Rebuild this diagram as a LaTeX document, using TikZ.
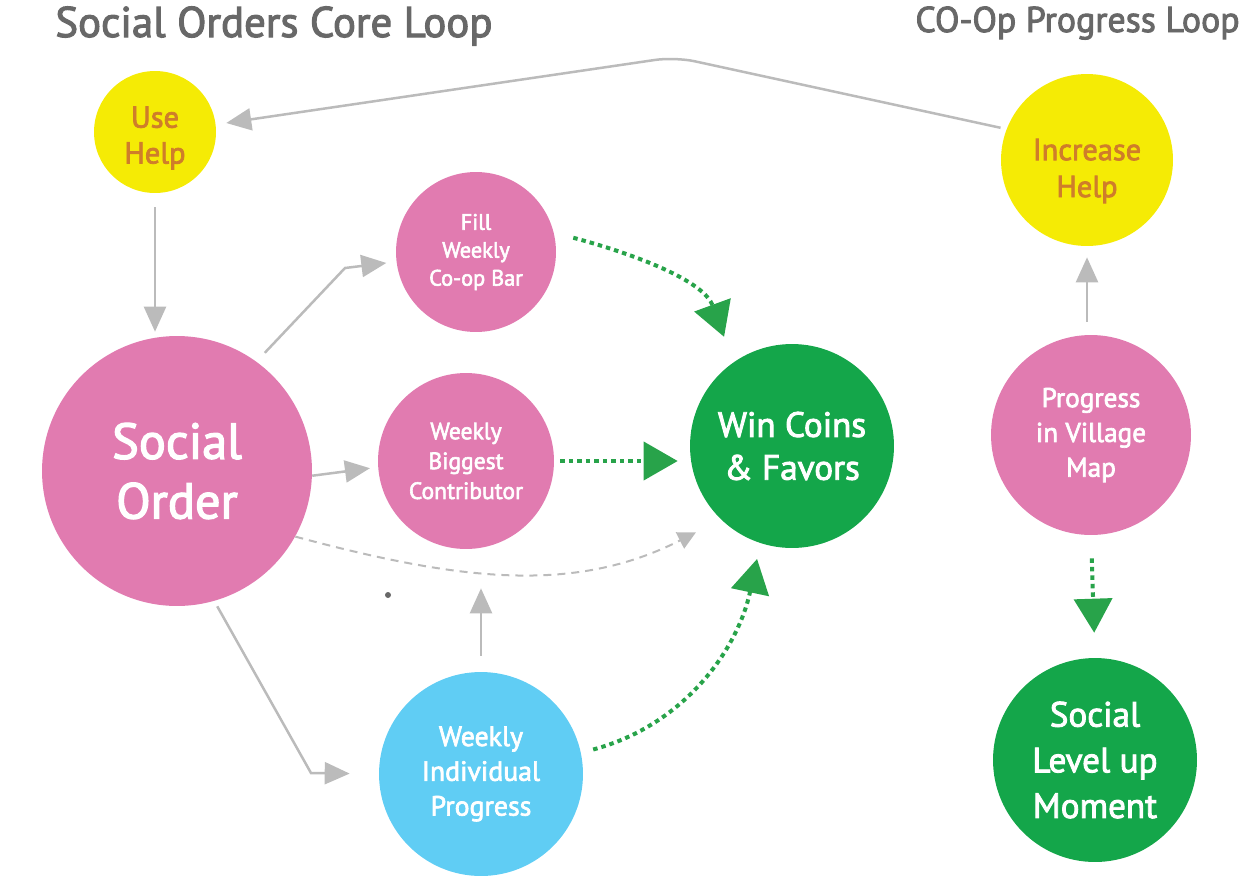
\documentclass[tikz,border=0pt]{standalone}
\usepackage{fontspec}
\setmainfont{PT Sans}[FakeBold=2.5]
\usepackage{tikz}
\usetikzlibrary{arrows.meta}

\definecolor{ballpink}{RGB}{225,123,176}
\definecolor{ballyellow}{RGB}{245,235,5}
\definecolor{ballgreen}{RGB}{20,166,74}
\definecolor{ballblue}{RGB}{96,205,244}
\definecolor{helptext}{RGB}{207,125,42}
\definecolor{titlegray}{RGB}{104,104,104}
\definecolor{linkgray}{RGB}{187,187,187}
\definecolor{dotgreen}{RGB}{40,163,74}

\begin{document}
\begin{tikzpicture}[x=0.02cm, y=-0.02cm,
        grayline/.style={draw=linkgray, line width=0.05cm},
        dotline/.style={draw=dotgreen, line width=0.08cm, dash pattern=on 0.09cm off 0.08cm}]
        \useasboundingbox (0,0) rectangle (1243,876);
        \begin{scope}[every node/.style={inner sep=0pt, text=titlegray}]
            \node[anchor=base west, font=\fontsize{24.4}{28}\selectfont] (coretitle) at (55,37) {Social Orders Core Loop};
            \node[anchor=base east, font=\fontsize{20.4}{23}\selectfont] (cooptitle) at (1240,32) {CO-Op Progress Loop};
        \end{scope}
        \begin{scope}[every node/.style={circle, inner sep=0pt, align=center, text=white}]
            \node[fill=ballyellow, minimum size=2.44cm,
                label={[text=helptext, font=\fontsize{17.3}{20.4}\selectfont, yshift=-0.12cm]center:Use\\Help}] (usehelp) at (155,132) {};
            \node[fill=ballpink, minimum size=3.2cm, font=\fontsize{12.7}{15.9}\selectfont] (coopbar) at (476,252) {Fill\\Weekly\\Co-op Bar};
            \node[fill=ballpink, minimum size=5.4cm, font=\fontsize{28.7}{34}\selectfont] (social) at (177,471) {Social\\Order};
            \node[fill=ballpink, minimum size=3.52cm, font=\fontsize{13.4}{17}\selectfont] (biggest) at (466,461) {Weekly\\Biggest\\Contributor};
            \node[fill=ballgreen, minimum size=4.08cm, font=\fontsize{20}{24.4}\selectfont] (coins) at (792,446) {Win Coins\\\& Favors};
            \node[fill=ballblue, minimum size=4.08cm, font=\fontsize{15.8}{19.8}\selectfont] (indiv) at (481,774) {Weekly\\Individual\\Progress};
            \node[fill=ballyellow, minimum size=3.44cm,
                label={[text=helptext, font=\fontsize{17.3}{21}\selectfont, yshift=-0.22cm]center:Increase\\Help}] (incr) at (1087,160) {};
            \node[fill=ballpink, minimum size=4cm, font=\fontsize{15.5}{19.8}\selectfont] (village) at (1091,435) {Progress\\in Village\\Map};
            \node[fill=ballgreen, minimum size=4.08cm, font=\fontsize{20}{26}\selectfont] (levelup) at (1095,760) {Social\\Level up\\Moment};
        \end{scope}
        \fill[titlegray] (388,595) circle (0.06cm);
        \begin{scope}[>={Triangle[length=0.5cm,width=0.44cm]},
            every edge/.style={grayline}]
            \path [->] (usehelp.south) edge[shorten <=0.28cm, shorten >=0.08cm] (usehelp.south |- social.north);
            \path [->] (social.-2) edge[shorten >=0.16cm] (biggest.184);
            \path [->] (indiv.north) edge[shorten <=0.32cm, shorten >=0.78cm] (indiv.north |- biggest.south);
            \path [->] (incr.south |- village.north) edge[shorten <=0.26cm, shorten >=0.22cm] (incr.south);
            \draw [->, grayline, shorten <=0.24cm, shorten >=0.2cm] (social.54) -- (345,268) -- (coopbar);
            \draw [->, grayline, shorten <=0.12cm, shorten >=0.58cm] (social.-74) -- (311,773) -- (indiv.180);
            \draw [->, grayline, rounded corners=0.4cm, shorten <=0.12cm, shorten >=0.21cm] (incr.159) -- (675,57) -- (usehelp.7);
            \path [->, >={Triangle[length=0.36cm,width=0.36cm]}] (social.-29) edge[line width=0.04cm, dash pattern=on 0.16cm off 0.12cm, out=-15, in=207, shorten >=0.56cm] (coins.226);
        \end{scope}
        \begin{scope}[>={Triangle[length=0.68cm,width=0.76cm]},
            every edge/.style={dotline}]
            \path [->] (coopbar.14) edge[out=-15, in=110, shorten <=0.4cm, shorten >=0.54cm] (coins.125);
            \path [->] (biggest.east) edge[shorten <=0.12cm, shorten >=0.24cm] (biggest.east -| coins.west);
            \path [->] (indiv.12) edge[out=15, in=-102, shorten <=0.25cm, shorten >=0.32cm] (coins.-108);
            \path [->] (village.south) edge[shorten <=0.46cm, shorten >=0.5cm] (levelup.north);
        \end{scope}
    \end{tikzpicture}
\end{document}
